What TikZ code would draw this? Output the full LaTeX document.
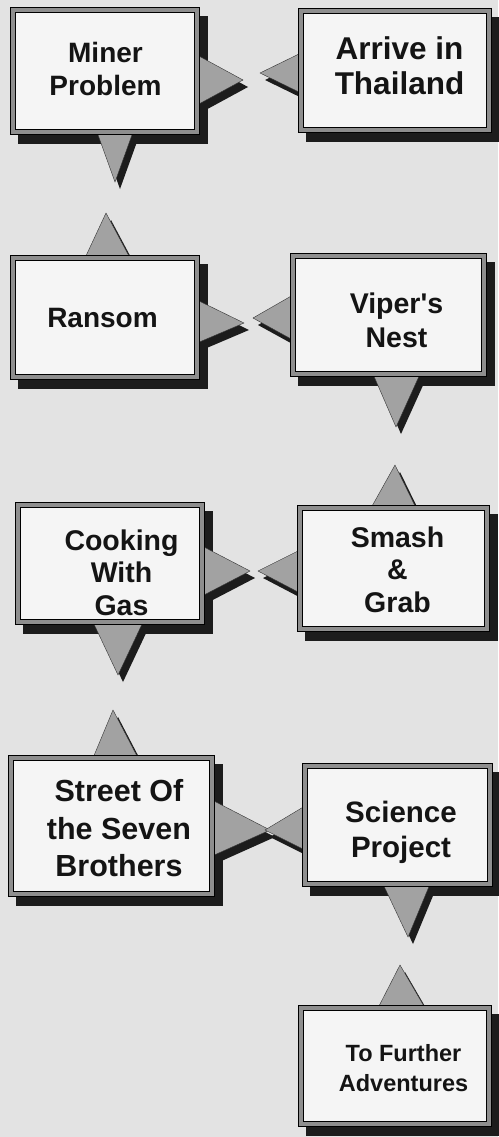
\documentclass[tikz,border=0pt]{standalone}
\usepackage{fontspec}
\setmainfont{Liberation Sans}
\newfontfamily\lab{Liberation Sans}
\usetikzlibrary{calc}
\pgfdeclarelayer{paperlayer}
\pgfdeclarelayer{bg}
\pgfsetlayers{paperlayer,bg,main}
\definecolor{paper}{HTML}{E3E3E3}
\definecolor{boxfill}{HTML}{F5F5F5}
\definecolor{bandgray}{HTML}{8E8E8E}
\definecolor{trigray}{HTML}{A2A2A2}
\definecolor{shadowc}{HTML}{1C1C1C}
\definecolor{ink}{HTML}{141414}
\newcommand\fs[2]{\lab\bfseries\fontsize{#1}{#2}\selectfont}
\newcommand\ptr[3]{%
  \path #1 coordinate (pa) #2 coordinate (pb) #3 coordinate (pt);
  \fill[tshadow] ([shift={(5,7)}]pa) -- ([shift={(5,7)}]pt) -- ([shift={(5,7)}]pb) -- cycle;
  \filldraw[tri] (pa) -- (pt) -- (pb) -- cycle;}
\newcommand\bshadow[1]{%
  \fill[fill=shadowc] ([shift={(5,6)}]#1.north west) rectangle ([shift={(11,12)}]#1.south east);}
\begin{document}
\begin{tikzpicture}[x=1pt,y=-1pt,
  box/.style={draw=black, line width=1.3pt, double=bandgray, double distance=3.4pt,
    fill=boxfill, inner sep=0pt, outer sep=0pt},
  lbl/.style={align=center, text=ink, inner sep=0pt},
  tri/.style={fill=trigray, draw=black!80, line width=0.4pt, line join=miter},
  tshadow/.style={fill=shadowc}]
\useasboundingbox (0,0) rectangle (498,1137);
\begin{pgfonlayer}{paperlayer}
\fill[paper] (0,0) rectangle (498,1137);
\end{pgfonlayer}

% boxes
\node[box, minimum width=184, minimum height=122] (b1) at (105,71) {};
\node[box, minimum width=188, minimum height=119] (b2) at (395,70.5) {};
\node[box, minimum width=184, minimum height=119] (b3) at (105,317.5) {};
\node[box, minimum width=191, minimum height=118] (b4) at (388.5,315) {};
\node[box, minimum width=184, minimum height=117] (b5) at (110,563.5) {};
\node[box, minimum width=187, minimum height=121] (b6) at (393.5,568.5) {};
\node[box, minimum width=201, minimum height=136] (b7) at (111.5,826) {};
\node[box, minimum width=185, minimum height=118] (b8) at (397.5,825) {};
\node[box, minimum width=188, minimum height=116] (b9) at (395,1066) {};

% labels
\node[lbl, font=\fs{28}{33}] (t1) at ($(b1.center)+(0.5,-2.5)$) {Miner\\Problem};
\node[lbl, font=\fs{31.5}{35}] (t2) at ($(b2.center)+(4.5,-5)$) {Arrive in\\Thailand};
\node[lbl, font=\fs{28}{33}] (t3) at ($(b3.center)+(-2.5,0.5)$) {Ransom};
\node[lbl, font=\fs{28.5}{34}] (t4) at ($(b4.center)+(8,5)$) {Viper's\\Nest};
\node[lbl, font=\fs{28.5}{32.5}] (t5) at ($(b5.center)+(11.5,9)$) {Cooking\\With\\Gas};
\node[lbl, font=\fs{28.5}{32.5}] (t6) at ($(b6.center)+(4,1)$) {Smash\\\&\\Grab};
\node[lbl, font=\fs{30.5}{37.5}] (t7) at ($(b7.center)+(7.5,2.5)$) {Street Of\\the Seven\\Brothers};
\node[lbl, font=\fs{29.5}{35}] (t8) at ($(b8.center)+(3.5,7.5)$) {Science\\Project};
\node[lbl, font=\fs{23.5}{30}] (t9) at ($(b9.center)+(8.5,2.5)$) {To Further\\Adventures};

\begin{pgfonlayer}{bg}
\foreach \b in {b1,b2,b3,b4,b5,b6,b7,b8,b9} {\bshadow{\b}}
% b1 -> b2 link
\ptr{($(b1.north east)+(0,45)$)}{($(b1.north east)+(0,95)$)}{($(b1.north east)+(46,70)$)}
\ptr{($(b2.north west)+(0,42)$)}{($(b2.north west)+(0,82)$)}{($(b2.north west)+(-41,62)$)}
% b1 -> b3 link
\ptr{($(b1.south west)+(84,0)$)}{($(b1.south west)+(120,0)$)}{($(b1.south west)+(102,50)$)}
\ptr{($(b3.north west)+(72,0)$)}{($(b3.north west)+(117,0)$)}{($(b3.north west)+(93,-45)$)}
% b3 -> b4 link
\ptr{($(b3.north east)+(0,42)$)}{($(b3.north east)+(0,85)$)}{($(b3.north east)+(47,65)$)}
\ptr{($(b4.north west)+(0,39)$)}{($(b4.north west)+(0,84)$)}{($(b4.north west)+(-40,62)$)}
% b4 -> b6 link
\ptr{($(b4.south west)+(80,0)$)}{($(b4.south west)+(127,0)$)}{($(b4.south west)+(103,53)$)}
\ptr{($(b6.north west)+(71,0)$)}{($(b6.north west)+(116,0)$)}{($(b6.north west)+(95,-43)$)}
% b5 -> b6 link
\ptr{($(b5.north east)+(0,41)$)}{($(b5.north east)+(0,91)$)}{($(b5.north east)+(48,66)$)}
\ptr{($(b6.north west)+(0,42)$)}{($(b6.north west)+(0,85)$)}{($(b6.north west)+(-42,63)$)}
% b5 -> b7 link
\ptr{($(b5.south west)+(75,0)$)}{($(b5.south west)+(125,0)$)}{($(b5.south west)+(100,53)$)}
\ptr{($(b7.north west)+(82,0)$)}{($(b7.north west)+(127,0)$)}{($(b7.north west)+(102,-48)$)}
% b7 -> b8 link
\ptr{($(b7.north east)+(0,42)$)}{($(b7.north east)+(0,98)$)}{($(b7.north east)+(58,72)$)}
\ptr{($(b8.north west)+(0,40)$)}{($(b8.north west)+(0,84)$)}{($(b8.north west)+(-40,64)$)}
% b8 -> b9 link
\ptr{($(b8.south west)+(78,0)$)}{($(b8.south west)+(125,0)$)}{($(b8.south west)+(103,53)$)}
\ptr{($(b9.north west)+(77,0)$)}{($(b9.north west)+(124,0)$)}{($(b9.north west)+(99,-43)$)}
\end{pgfonlayer}
\end{tikzpicture}
\end{document}
